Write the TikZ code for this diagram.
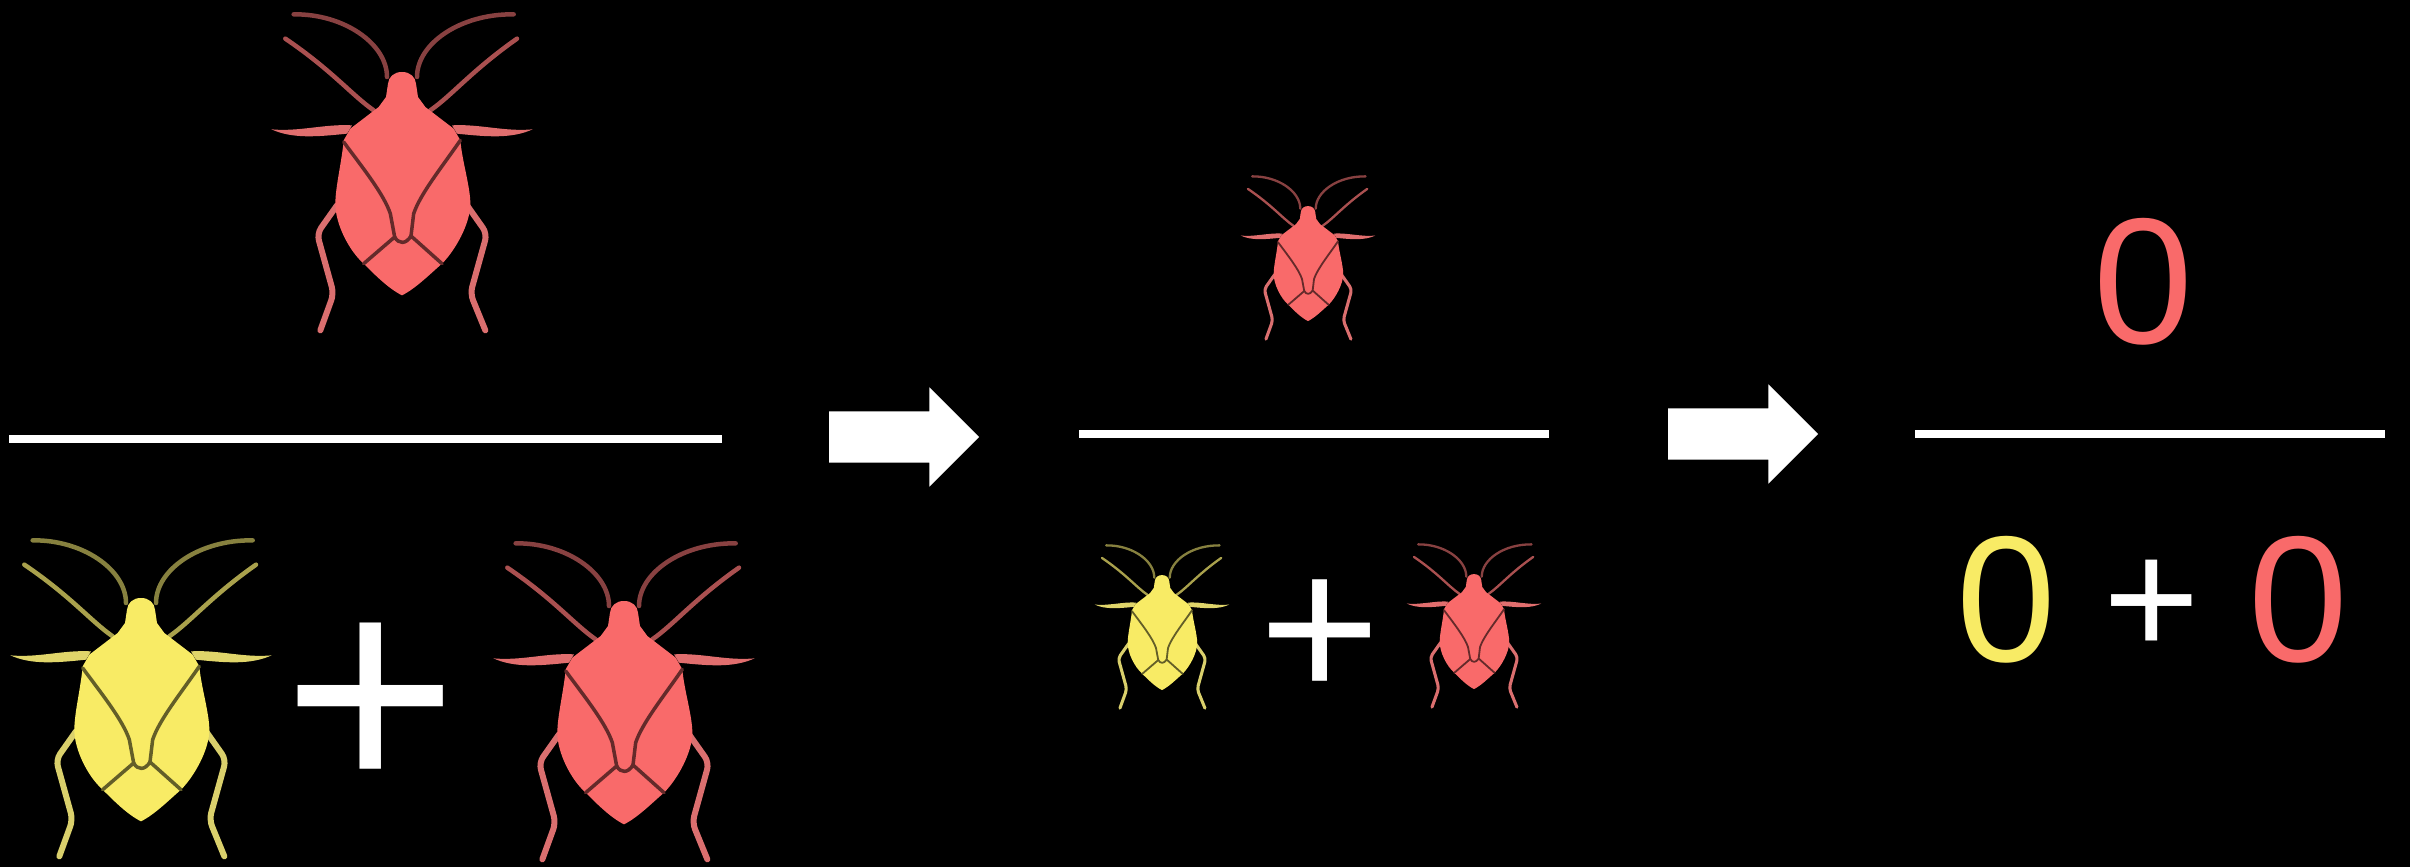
\documentclass[tikz,border=0pt]{standalone}
\usepackage{fontspec}
\setmainfont{Liberation Sans}
\usepackage{tikz}
\usetikzlibrary{shapes.arrows}
\definecolor{bugred}{HTML}{F96A6A}
\definecolor{bugyellow}{HTML}{F8EB65}

\begin{document}
\begin{tikzpicture}[
    x=0.01cm, y=-0.01cm,
    every node/.style={inner sep=0pt, outer sep=0pt},
    fracbar/.style={draw=white, line width=8*0.01cm},
    zerored/.style={text=bugred, font=\fontsize{51}{51}\selectfont},
    zeroyellow/.style={text=bugyellow, font=\fontsize{51}{51}\selectfont},
    plussign/.style={text=white, font=\fontsize{#1}{#1}\selectfont},
    stepArrow/.style={fill=white, single arrow, text height=0.5cm, minimum height=1.5cm,
        single arrow head extend=0.24cm, single arrow head indent=0pt, anchor=tail},
    pics/bug/.style 2 args={code={
        \begin{scope}[x=#2*0.01cm/3, y=-#2*0.01cm/3, line cap=round, line join=round]
        % antennae
        \draw[#1!55!black!90!gray, line width=#2*0.045cm]
            (-45,-270) .. controls (-45,-370) and (-175,-460) .. (-325,-458);
        \draw[#1!55!black!90!gray, line width=#2*0.045cm]
            (45,-270) .. controls (45,-370) and (175,-460) .. (335,-458);
        \draw[#1!70!black!90!gray, line width=#2*0.045cm]
            (-85,-170) .. controls (-150,-215) and (-210,-290) .. (-350,-385);
        \draw[#1!70!black!90!gray, line width=#2*0.045cm]
            (85,-170) .. controls (150,-215) and (210,-290) .. (345,-385);
        % legs
        \fill[#1!80!gray] (-150,-125) .. controls (-230,-130) and (-310,-105) .. (-392,-113)
            .. controls (-330,-85) and (-260,-90) .. (-165,-100) -- cycle;
        \fill[#1!80!gray] (150,-125) .. controls (230,-130) and (310,-105) .. (392,-113)
            .. controls (330,-85) and (260,-90) .. (165,-100) -- cycle;
        \draw[#1!75!gray, line width=#2*0.06cm, rounded corners=#2*0.07cm]
            (-195,115) -- (-255,200) -- (-205,380) -- (-245,490);
        \draw[#1!75!gray, line width=#2*0.06cm, rounded corners=#2*0.07cm]
            (195,115) -- (255,200) -- (205,380) -- (250,490);
        % body
        \fill[#1] (0,-285) .. controls (-25,-285) and (-40,-270) .. (-42,-250)
            -- (-48,-210) -- (-70,-180)
            -- (-155,-115) -- (-175,-80)
            .. controls (-180,-20) and (-200,60) .. (-200,110)
            .. controls (-200,170) and (-160,250) .. (-115,290)
            .. controls (-80,325) and (-40,365) .. (0,385)
            .. controls (40,365) and (80,325) .. (120,290)
            .. controls (160,250) and (205,170) .. (205,110)
            .. controls (205,60) and (180,-20) .. (175,-80)
            -- (155,-115) -- (70,-180) -- (48,-210) -- (42,-250)
            .. controls (40,-270) and (25,-285) .. (0,-285) -- cycle;
        % wing lines
        \draw[#1!40!black, line width=#2*0.035cm]
            (-175,-75) .. controls (-120,0) and (-55,80) .. (-35,140) -- (-22,210);
        \draw[#1!40!black, line width=#2*0.035cm]
            (175,-80) .. controls (120,0) and (55,80) .. (35,140) -- (27,207);
        \draw[#1!40!black, line width=#2*0.035cm]
            (-115,290) -- (-22,210) .. controls (-10,232) and (12,232) .. (27,207) -- (120,290);
        \end{scope}
    }}
]
% background
\path[fill=black, use as bounding box] (0,0) rectangle (2410,867);

% Left fraction
\pic (topbug) at (402,167) {bug={bugred}{1}};
\pic (leftyellow) at (141,693) {bug={bugyellow}{1}};
\pic (leftred) at (624,696) {bug={bugred}{1}};
\node[plussign=85] (plusA) at (371,709) {+};
\coordinate (barAl) at (9,439);
\coordinate (barAr) at (722,439);
\draw[fracbar] (barAl) -- (barAr);

% Middle fraction
\pic (midbug) at (1308,255) {bug={bugred}{0.515}};
\pic (midyellow) at (1162,624) {bug={bugyellow}{0.515}};
\pic (midred) at (1474,623) {bug={bugred}{0.515}};
\node[plussign=59] (plusB) at (1320,640) {+};
\coordinate (barBl) at (1079,434);
\coordinate (barBr) at (1549,434);
\draw[fracbar] (barBl) -- (barBr);

% Right fraction
\node[zerored] (zerotop) at (2143,282) {0};
\node[zeroyellow] (zeroleft) at (2006,600) {0};
\node[plussign=47] (plusC) at (2152,608) {+};
\node[zerored] (zeroright) at (2298,600) {0};
\coordinate (barCl) at (1915,434);
\coordinate (barCr) at (2385,434);
\draw[fracbar] (barCl) -- (barCr);

% Arrows
\node[stepArrow] (arrowA) at (829,437) {};
\node[stepArrow] (arrowB) at (1668,434) {};
\end{tikzpicture}
\end{document}
